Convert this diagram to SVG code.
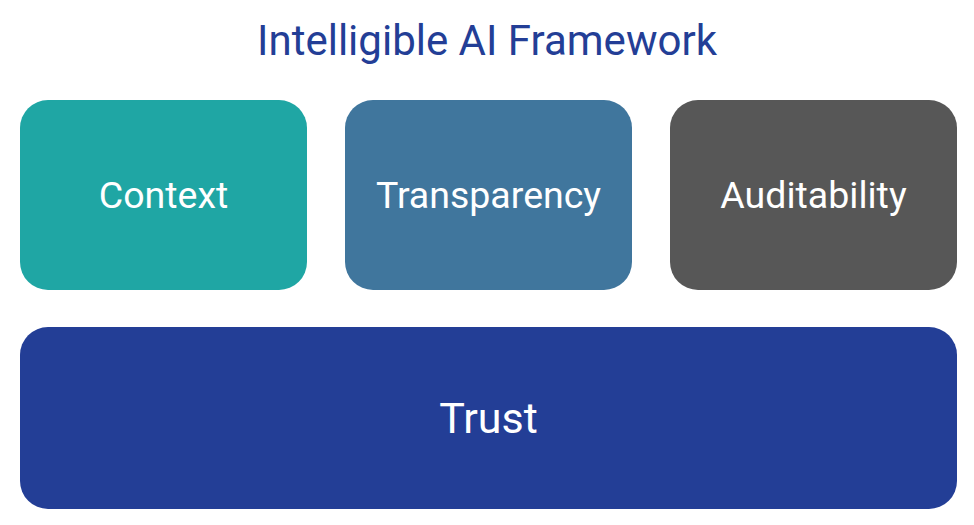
<svg xmlns="http://www.w3.org/2000/svg" width="974" height="525" viewBox="0 0 974 525">
<style>
text{font-family:Roboto,"Liberation Sans",sans-serif;text-anchor:middle}
.lbl{fill:#ffffff;font-size:37.5px}
.big{font-size:43px}
.title{fill:#233e96;font-size:42px}
</style>
<rect width="974" height="525" fill="#ffffff"/>
<g id="title"><text class="title" x="487" y="55">Intelligible AI Framework</text></g>
<g id="context"><rect x="20" y="100" width="287" height="190" rx="28" fill="#1fa6a4"/><text class="lbl" x="163.5" y="208">Context</text></g>
<g id="transparency"><rect x="345" y="100" width="287" height="190" rx="28" fill="#40769d"/><text class="lbl" x="488.5" y="208">Transparency</text></g>
<g id="auditability"><rect x="670" y="100" width="287" height="190" rx="28" fill="#575757"/><text class="lbl" x="813.5" y="208">Auditability</text></g>
<g id="trust"><rect x="20" y="327" width="937" height="182" rx="28" fill="#233e96"/><text class="lbl big" x="488.5" y="433">Trust</text></g>
<g id="connectors"/>
</svg>
